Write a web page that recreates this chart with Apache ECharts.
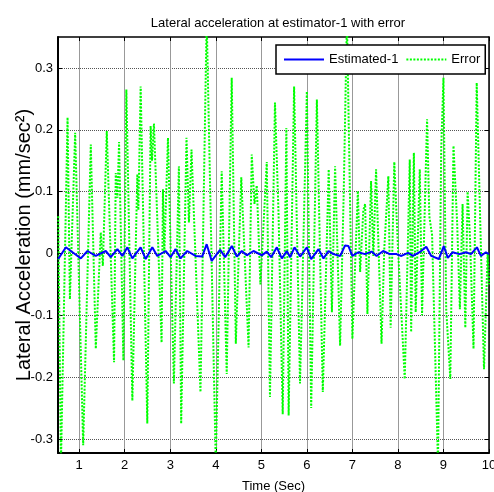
<!DOCTYPE html>
<html><head><meta charset="utf-8">
<script src="https://cdn.jsdelivr.net/npm/echarts@6/dist/echarts.min.js"></script>
<style>html,body{margin:0;padding:0;background:#fff}#c{width:494px;height:492px}</style>
</head><body><div id="c"></div>
<script>
const chartTitle = 'Lateral acceleration at estimator-1 with error';
const xName = 'Time (Sec)';
const yName = 'Lateral Acceleration (mm/sec²)';
const seriesNames = ['Estimated-1', 'Error'];
const xTicks = [1, 2, 3, 4, 5, 6, 7, 8, 9, 10];
const yTicks = [-0.3, -0.2, -0.1, 0, 0.1, 0.2, 0.3];

const errTime = [0.54, 0.60, 0.745, 0.796, 0.912, 1.088, 1.255, 1.365, 1.474, 1.52, 1.606, 1.766, 1.803, 1.84, 1.876, 1.971,
  2.036, 2.168, 2.277, 2.30, 2.35, 2.496, 2.569, 2.60, 2.642, 2.81, 2.84, 2.87, 2.95, 3.08, 3.19, 3.24, 3.357, 3.41, 3.467,
  3.664, 3.80, 4.0, 4.13, 4.24, 4.35, 4.44, 4.56, 4.72, 4.79, 4.85, 4.9, 4.98, 5.12, 5.19, 5.30, 5.38, 5.47, 5.55, 5.60,
  5.72, 5.85, 5.89, 6.0, 6.095, 6.22, 6.35, 6.48, 6.55, 6.62, 6.73, 6.81, 6.88, 7.0, 7.12, 7.17, 7.24, 7.28, 7.33, 7.41,
  7.46, 7.52, 7.64, 7.7, 7.79, 7.84, 7.92, 8.0, 8.15, 8.26, 8.29, 8.35, 8.39, 8.48, 8.53, 8.64, 8.69, 8.75, 8.88, 8.95,
  9.0, 9.06, 9.15, 9.22, 9.3, 9.36, 9.42, 9.48, 9.53, 9.58, 9.66, 9.73, 9.89, 9.97, 10.0];
const errValue = [0.06, -0.34, 0.22, -0.074, 0.195, -0.31, 0.176, -0.154, 0.034, -0.02, 0.198, -0.176, 0.13, 0.09, 0.18, -0.173,
  0.265, -0.238, 0.128, 0.07, 0.27, -0.275, 0.206, 0.15, 0.21, -0.144, 0.104, 0.0, 0.187, -0.21, 0.141, -0.275, 0.187, 0.05, 0.168,
  -0.224, 0.38, -0.34, 0.133, -0.195, 0.284, -0.146, 0.123, -0.152, 0.16, 0.08, 0.11, -0.05, 0.148, -0.232, 0.244, 0.06, -0.26, 0.203, -0.262,
  0.27, -0.21, -0.09, 0.262, -0.25, 0.249, -0.224, 0.136, -0.095, 0.141, -0.149, 0.1, 0.38, -0.138, 0.101, -0.03, 0.07, 0.08, -0.098, 0.117,
  -0.004, 0.136, -0.146, 0.007, 0.125, -0.12, 0.148, 0.01, -0.203, 0.152, -0.127, 0.163, -0.095, 0.136, -0.1, 0.217, 0.06, 0.03, -0.34, 0.168,
  0.284, -0.09, -0.203, 0.174, 0.05, -0.09, 0.08, -0.12, 0.1, 0.03, -0.154, 0.276, -0.187, 0.0, -0.05];

const estTime = [0.54, 0.708, 0.854, 1.036, 1.182, 1.365, 1.584, 1.693, 1.839, 1.949, 2.058, 2.168, 2.350, 2.460, 2.606, 2.715,
  2.898, 3.007, 3.117, 3.226, 3.372, 3.555, 3.701, 3.80, 3.91, 4.095, 4.205, 4.352, 4.462, 4.571, 4.681, 4.828, 5.011, 5.121,
  5.216, 5.341, 5.451, 5.560, 5.634, 5.729, 5.853, 6.0, 6.095, 6.256, 6.366, 6.476, 6.586, 6.733, 6.84, 6.913, 7.0, 7.131,
  7.276, 7.422, 7.531, 7.676, 7.822, 7.967, 8.076, 8.222, 8.331, 8.476, 8.622, 8.731, 8.898, 9.007, 9.095, 9.204, 9.349,
  9.495, 9.604, 9.735, 9.822, 9.931, 10.0];
const estValue = [-0.009, 0.010, 0.002, -0.008, 0.004, -0.004, 0.004, -0.006, 0.007, -0.004, 0.010, -0.008, 0.010, -0.009, 0.010, -0.004,
  0.004, -0.006, 0.007, -0.008, 0.004, -0.004, -0.005, 0.015, -0.012, 0.006, -0.006, 0.012, -0.005, 0.004, -0.003, 0.004, -0.003, 0.003,
  -0.006, 0.010, -0.008, 0.004, -0.006, 0.010, -0.005, 0.010, -0.009, 0.007, -0.008, 0.004, -0.001, -0.004, 0.013, 0.012, -0.004, 0.002,
  -0.001, 0.003, -0.004, 0.004, -0.001, -0.001, -0.004, 0.001, -0.004, 0.002, 0.011, -0.004, -0.009, 0.012, -0.007, 0.002, -0.001,
  0.002, -0.001, 0.010, -0.004, 0.002, -0.001];

const errData = errTime.map((t, i) => [t, errValue[i]]);
const estData = estTime.map((t, i) => [t, estValue[i]]);

const FONT = "'Liberation Sans', Arial, sans-serif";
const X_MIN = 0.535, X_MAX = 10, Y_MIN = -0.3226, Y_MAX = 0.35;
const fmtY = v => String(Math.round(v * 10) / 10);

const chart = echarts.init(document.getElementById('c'), null, {renderer: 'canvas'});
chart.setOption({
  backgroundColor: '#ffffff',
  animation: false,
  title: {
    text: chartTitle, left: 273, top: 12, textAlign: 'center',
    textStyle: {fontFamily: FONT, fontSize: 13, fontWeight: 'normal', color: '#000'}
  },
  grid: {left: 58, right: 5, top: 37, bottom: 39, containLabel: false, outerBoundsMode: 'none'},
  legend: {
    data: seriesNames,
    left: 276, top: 45,
    orient: 'horizontal',
    itemWidth: 40, itemHeight: 14, itemGap: 7,
    padding: [8, 5, 8, 7],
    backgroundColor: '#fff',
    borderColor: '#000', borderWidth: 1.5,
    itemStyle: {opacity: 0},
    textStyle: {fontFamily: FONT, fontSize: 13, color: '#000'}
  },
  xAxis: [{
    type: 'value', position: 'bottom', min: X_MIN, max: X_MAX,
    name: xName, nameLocation: 'middle', nameGap: 27, nameMoveOverlap: false,
    nameTextStyle: {fontFamily: FONT, fontSize: 13, color: '#000'},
    axisLine: {show: true, onZero: false, lineStyle: {color: '#000', width: 2}},
    axisTick: {show: true, inside: true, length: 4, customValues: xTicks, lineStyle: {color: '#000'}},
    axisLabel: {show: true, customValues: xTicks, margin: 6, fontFamily: FONT, fontSize: 13, color: '#000',
      showMinLabel: true, showMaxLabel: true, hideOverlap: false},
    splitLine: {show: true, lineStyle: {color: '#999', width: 1}}
  }, {
    type: 'value', position: 'top', min: X_MIN, max: X_MAX,
    axisLine: {show: true, onZero: false, lineStyle: {color: '#000', width: 1.5}},
    axisTick: {show: true, inside: true, length: 4, customValues: xTicks, lineStyle: {color: '#000'}},
    axisLabel: {show: false},
    splitLine: {show: false}
  }],
  yAxis: [{
    type: 'value', position: 'left', min: Y_MIN, max: Y_MAX,
    name: yName, nameLocation: 'middle', nameGap: 24, nameRotate: 90, nameMoveOverlap: false,
    nameTextStyle: {fontFamily: FONT, fontSize: 20, color: '#000'},
    axisLine: {show: true, onZero: false, lineStyle: {color: '#000', width: 2}},
    axisTick: {show: true, inside: true, length: 4, customValues: yTicks, lineStyle: {color: '#000'}},
    axisLabel: {show: true, customValues: yTicks, margin: 5, fontFamily: FONT, fontSize: 13, color: '#000',
      formatter: fmtY, showMinLabel: true, showMaxLabel: true},
    splitLine: {show: true, lineStyle: {color: '#555', width: 1, type: [1, 1]}}
  }, {
    type: 'value', position: 'right', min: Y_MIN, max: Y_MAX,
    axisLine: {show: true, onZero: false, lineStyle: {color: '#000', width: 1.5}},
    axisTick: {show: true, inside: true, length: 4, customValues: yTicks, lineStyle: {color: '#000'}},
    axisLabel: {show: false},
    splitLine: {show: false}
  }],
  series: [{
    name: seriesNames[1], type: 'line', data: errData, xAxisIndex: 0, yAxisIndex: 0,
    showSymbol: false, symbol: 'none', clip: true, z: 2,
    lineStyle: {color: '#00ff00', width: 2, type: [2, 1.5]},
    itemStyle: {color: '#00ff00'}
  }, {
    name: seriesNames[0], type: 'line', data: estData, xAxisIndex: 0, yAxisIndex: 0,
    showSymbol: false, symbol: 'none', clip: true, z: 3,
    lineStyle: {color: '#0000ff', width: 2},
    itemStyle: {color: '#0000ff'}
  }]
});
</script>
</body></html>
